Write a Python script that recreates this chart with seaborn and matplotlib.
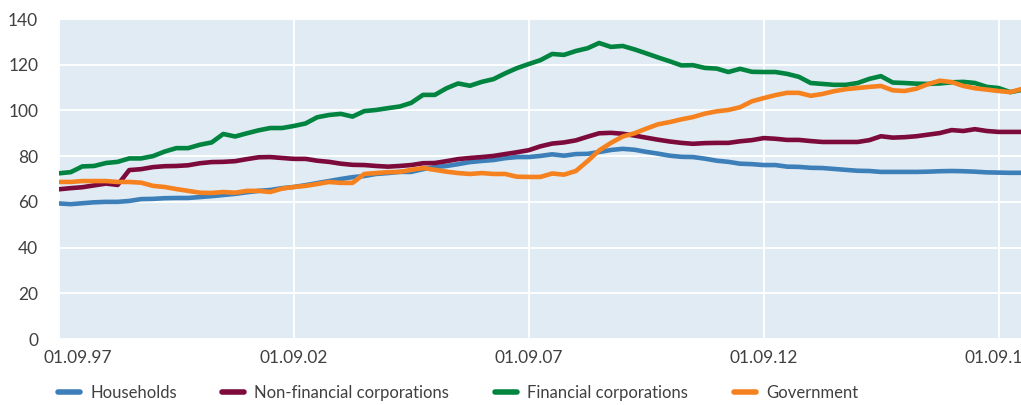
import numpy as np
import pandas as pd
import matplotlib
matplotlib.use("Agg")
import matplotlib.pyplot as plt
import matplotlib.dates as mdates
import matplotlib.transforms as mtransforms
import seaborn as sns

# ---------------- data (quarterly, from 01.09.1997) ----------------
start_date = "1997-09-01"
n_points = 83

households = [
    59.3, 59.0, 59.4, 59.8, 60.0, 60.0, 60.4, 61.2, 61.3, 61.6,
    61.7, 61.7, 62.1, 62.5, 63.0, 63.5, 64.2, 64.8, 65.2, 66.0,
    66.5, 67.3, 68.2, 69.1, 70.0, 70.8, 71.3, 72.2, 72.6, 73.1,
    73.1, 74.3, 75.2, 75.7, 76.5, 77.4, 77.9, 78.3, 79.1, 79.6,
    79.6, 80.1, 80.8, 80.2, 80.9, 81.0, 81.8, 82.7, 83.2, 82.8,
    81.9, 81.1, 80.2, 79.7, 79.6, 78.9, 78.0, 77.5, 76.7, 76.5,
    76.1, 76.1, 75.4, 75.3, 74.9, 74.8, 74.4, 74.0, 73.6, 73.5,
    73.1, 73.1, 73.1, 73.1, 73.2, 73.4, 73.5, 73.4, 73.2, 72.9,
    72.8, 72.7, 72.7,
]

non_financial = [
    65.5, 66.0, 66.4, 67.2, 68.0, 67.4, 73.9, 74.3, 75.2, 75.6,
    75.7, 76.0, 76.9, 77.4, 77.5, 77.8, 78.7, 79.5, 79.6, 79.2,
    78.8, 78.8, 78.0, 77.5, 76.7, 76.2, 76.1, 75.7, 75.4, 75.7,
    76.1, 76.9, 77.0, 77.8, 78.7, 79.2, 79.6, 80.1, 80.9, 81.7,
    82.6, 84.3, 85.5, 86.0, 86.9, 88.5, 90.0, 90.2, 89.8, 89.0,
    88.1, 87.2, 86.4, 85.8, 85.4, 85.7, 85.8, 85.8, 86.5, 87.0,
    87.9, 87.6, 87.1, 87.1, 86.6, 86.2, 86.2, 86.2, 86.2, 87.0,
    88.7, 88.1, 88.3, 88.7, 89.4, 90.1, 91.4, 91.0, 91.8, 91.0,
    90.6, 90.6, 90.6,
]

financial = [
    72.5, 73.0, 75.5, 75.7, 77.0, 77.5, 79.0, 79.0, 80.0, 82.0,
    83.5, 83.5, 85.0, 86.0, 89.7, 88.6, 90.0, 91.3, 92.3, 92.3,
    93.2, 94.3, 97.0, 98.0, 98.5, 97.3, 99.7, 100.2, 101.0, 101.7,
    103.3, 106.8, 106.8, 109.7, 111.8, 110.8, 112.5, 113.7, 116.2, 118.5,
    120.3, 122.0, 124.7, 124.3, 126.0, 127.2, 129.5, 127.8, 128.2, 126.7,
    125.0, 123.2, 121.5, 119.7, 119.8, 118.6, 118.3, 116.8, 118.2, 116.9,
    116.8, 116.8, 116.0, 114.7, 112.0, 111.6, 111.2, 111.2, 112.0, 113.8,
    115.0, 112.2, 112.0, 111.7, 111.6, 111.8, 112.3, 112.5, 112.0, 110.3,
    109.8, 108.0, 109.0,
]

government = [
    68.7, 68.7, 69.1, 69.1, 69.1, 68.7, 68.7, 68.4, 67.0, 66.5,
    65.6, 64.8, 64.0, 63.9, 64.3, 64.0, 64.8, 64.8, 64.3, 65.8,
    66.5, 67.0, 67.8, 68.7, 68.3, 68.3, 72.2, 72.6, 73.0, 73.1,
    74.0, 74.8, 74.0, 73.2, 72.6, 72.2, 72.6, 72.2, 72.2, 71.0,
    70.9, 70.9, 72.4, 71.9, 73.5, 77.8, 82.5, 85.8, 88.6, 90.0,
    92.0, 93.9, 94.9, 96.1, 97.1, 98.6, 99.6, 100.2, 101.4, 104.0,
    105.4, 106.7, 107.7, 107.7, 106.4, 107.2, 108.4, 109.3, 109.8, 110.3,
    110.7, 108.8, 108.5, 109.5, 111.5, 113.0, 112.4, 110.7, 109.7, 109.1,
    108.5, 108.0, 109.4,
]

series_names = ["Households", "Non-financial corporations",
                "Financial corporations", "Government"]
series_colors = ["#3d7fb8", "#7c0a3b", "#00843f", "#f5821f"]
y_ticks = [0, 20, 40, 60, 80, 100, 120, 140]
x_tick_dates = ["1997-09-01", "2002-09-01", "2007-09-01",
                "2012-09-01", "2017-09-01"]

# ---------------- build long table ----------------
dates = pd.date_range(start_date, periods=n_points, freq="3MS")
frames = []
for name, vals in zip(series_names,
                      [households, non_financial, financial, government]):
    frames.append(pd.DataFrame({"date": dates, "value": vals, "series": name}))
df = pd.concat(frames, ignore_index=True)

# ---------------- style ----------------
sns.set_theme(style="darkgrid", rc={
    "axes.facecolor": "#e1ebf4",
    "grid.color": "white",
    "grid.linewidth": 1.3,
    "axes.edgecolor": "none",
})
plt.rcParams["font.family"] = ["Lato", "DejaVu Sans"]

fig = plt.figure(figsize=(10.21, 4.05), dpi=100)
ax = fig.add_axes([59 / 1021, 1 - 339 / 405, 1 - 59 / 1021, 320 / 405])

sns.lineplot(data=df, x="date", y="value", hue="series",
             palette=dict(zip(series_names, series_colors)),
             hue_order=series_names, linewidth=3.3, ax=ax, legend=False)

ax.set_ylim(0, 140)
ax.set_yticks(y_ticks)
ax.set_xlim(pd.Timestamp("1997-09-01"), pd.Timestamp("2018-02-22"))
ax.set_xticks(pd.to_datetime(x_tick_dates))
ax.xaxis.set_major_formatter(mdates.DateFormatter("%d.%m.%y"))
ax.set_xlabel("")
ax.set_ylabel("")
for s in ax.spines.values():
    s.set_visible(False)
ax.tick_params(axis="both", length=0, labelsize=12.5, colors="#404040")
ax.tick_params(axis="x", pad=8)
ax.tick_params(axis="y", pad=15)
ax.grid(True, axis="both", color="white", linewidth=1.3)

# shift first x label right as in the reference
first = ax.get_xticklabels()[0]
first.set_transform(first.get_transform() +
                    mtransforms.ScaledTranslation(19 / 100, 0, fig.dpi_scale_trans))

# legend
handles = [plt.Line2D([0], [0], color=c, linewidth=4) for c in series_colors]
fig.legend(handles, series_names, loc="center left",
           bbox_to_anchor=(58 / 1021, 12 / 405), ncol=4, frameon=False,
           fontsize=12, handlelength=1.32, handletextpad=0.6,
           columnspacing=2.75, borderpad=0, borderaxespad=0,
           labelcolor="#404040")

fig.savefig("out.png", dpi=100)
